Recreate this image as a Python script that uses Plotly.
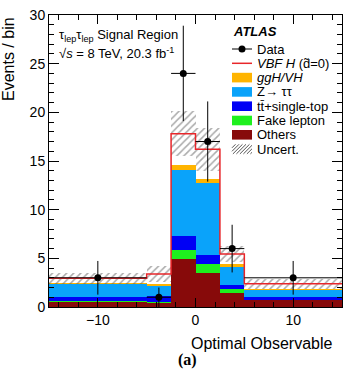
import plotly.graph_objects as go

# ---------------- data ----------------
bin_edges = [-15, -5, -2.5, 0, 2.5, 5, 15]
data_counts = [3, 1, 24, 17, 6, 3]
data_err = [1.73, 1.0, 4.9, 4.12, 2.45, 1.73]
others = [0.6, 0.5, 4.9, 3.45, 1.4, 0.78]
fake_lepton = [0.05, 0.05, 1.0, 0.95, 0.4, 0.03]
ttbar_top = [0.4, 0.6, 1.35, 0.95, 0.45, 0.2]
z_tautau = [1.35, 1.1, 6.85, 7.4, 1.95, 0.82]
ggh_vh = [0.05, 0.15, 0.45, 0.45, 0.2, 0.05]
vbf_h = [0.5, 1.0, 3.25, 3.0, 1.05, 0.5]
uncert = [0.55, 0.8, 2.3, 2.2, 0.85, 0.5]

x_ticks = [-10, 0, 10]

centers = [(a + b) / 2 for a, b in zip(bin_edges[:-1], bin_edges[1:])]
widths = [b - a for a, b in zip(bin_edges[:-1], bin_edges[1:])]
halfw = [w / 2 for w in widths]

# ---------------- layout geometry ----------------
W, H = 343, 383
L, R, T, B = 49, 1, 15, 76
PW = W - L - R
PH = H - T - B


def px(x):
    return (x - L) / PW


def py(y):
    return (H - B - y) / PH


C_OTH = "#870a0a"
C_FAKE = "#1ef01e"
C_TT = "#0000f5"
C_Z = "#0aa3fa"
C_GGH = "#ffb400"
C_VBF = "#e8262a"
C_HATCH = "#555555"

fig = go.Figure()

stack = [
    ("Others", others, C_OTH),
    ("Fake lepton", fake_lepton, C_FAKE),
    ("ttbar", ttbar_top, C_TT),
    ("Ztautau", z_tautau, C_Z),
    ("ggH/VH", ggh_vh, C_GGH),
    ("VBF H", vbf_h, "white"),
]
base = [0.0] * len(centers)
for name, vals, col in stack:
    fig.add_trace(go.Bar(x=centers, y=vals, base=list(base), width=widths,
                         marker=dict(color=col, line=dict(width=0)),
                         name=name, showlegend=False))
    base = [b + v for b, v in zip(base, vals)]
total = base

# VBF outline (step line of total)
fig.add_trace(go.Scatter(x=bin_edges, y=total + [total[-1]], mode="lines",
                         line=dict(color=C_VBF, width=1.5, shape="hv"),
                         showlegend=False))

# uncertainty hatched band
fig.add_trace(go.Bar(x=centers, y=[2 * u for u in uncert],
                     base=[t - u for t, u in zip(total, uncert)], width=widths,
                     marker=dict(color="rgba(0,0,0,0)", line=dict(width=0),
                                 pattern=dict(shape="/", fgcolor=C_HATCH,
                                              bgcolor="rgba(0,0,0,0)",
                                              size=5, solidity=0.3,
                                              fillmode="overlay")),
                     showlegend=False))

# data
fig.add_trace(go.Scatter(x=centers, y=data_counts, mode="markers",
                         marker=dict(color="black", size=7),
                         error_y=dict(type="data", array=data_err, color="black",
                                      thickness=1, width=0),
                         error_x=dict(type="data", array=halfw, color="black",
                                      thickness=1, width=0),
                         showlegend=False))

FONT = "Liberation Sans, Arial, sans-serif"

ann = []
ann.append(dict(text="Events / bin", x=px(8), y=py(59), textangle=-90,
                xanchor="center", yanchor="middle", font=dict(size=16)))
ann.append(dict(text="Optimal Observable", x=px(334), y=py(343),
                xanchor="right", yanchor="middle", font=dict(size=16)))
ann.append(dict(text="<b>(a)</b>", x=px(187), y=py(360), xanchor="center",
                yanchor="middle",
                font=dict(size=16, family="Liberation Serif, Times New Roman, serif")))
ann.append(dict(text="τ<sub>lep</sub>τ<sub>lep</sub> Signal Region", x=px(57), y=py(36),
                xanchor="left", yanchor="middle", font=dict(size=13)))
ann.append(dict(text="√<i>s</i> = 8 TeV, 20.3 fb<sup>-1</sup>", x=px(57), y=py(53),
                xanchor="left", yanchor="middle", font=dict(size=13)))
ann.append(dict(text="<b><i>ATLAS</i></b>", x=px(231), y=py(31),
                xanchor="left", yanchor="middle", font=dict(size=13)))

leg_labels = ["Data", "<i>VBF H</i> (d\u0303=0)", "<i>ggH/VH</i>", "Z→ ττ",
              "tt\u0304+single-top", "Fake lepton", "Others", "Uncert."]
leg_y0 = 49
leg_dy = 14.3
for i, lab in enumerate(leg_labels):
    ann.append(dict(text=lab, x=px(255), y=py(leg_y0 + i * leg_dy),
                    xanchor="left", yanchor="middle", font=dict(size=13)))
for a in ann:
    a.update(xref="paper", yref="paper", showarrow=False)

shapes = []
sx0, sx1 = 232, 252
# data symbol
yy = leg_y0
shapes.append(dict(type="line", x0=px(sx0), x1=px(sx1), y0=py(yy), y1=py(yy),
                   line=dict(color="black", width=1)))
shapes.append(dict(type="circle", x0=px(242 - 3.5), x1=px(242 + 3.5),
                   y0=py(yy + 3.5), y1=py(yy - 3.5),
                   fillcolor="black", line=dict(color="black", width=0)))
yy = leg_y0 + leg_dy
shapes.append(dict(type="line", x0=px(sx0), x1=px(sx1), y0=py(yy), y1=py(yy),
                   line=dict(color=C_VBF, width=1.5)))
for i, col in enumerate([C_GGH, C_Z, C_TT, C_FAKE, C_OTH]):
    yy = leg_y0 + (i + 2) * leg_dy
    shapes.append(dict(type="rect", x0=px(sx0), x1=px(sx1), y0=py(yy + 4.8),
                       y1=py(yy - 4.8), fillcolor=col, line=dict(width=0)))
# hatched legend box
yy = leg_y0 + 7 * leg_dy
ytop, ybot = yy - 4.8, yy + 4.8
hh = ybot - ytop
off = -hh
while off < (sx1 - sx0):
    xa, ya = sx0 + off, ybot
    xb, yb = sx0 + off + hh, ytop
    if xa < sx0:
        ya = ybot - (sx0 - xa)
        xa = sx0
    if xb > sx1:
        yb = ytop + (xb - sx1)
        xb = sx1
    shapes.append(dict(type="line", x0=px(xa), x1=px(xb), y0=py(ya), y1=py(yb),
                       line=dict(color=C_HATCH, width=1)))
    off += 3.5
for s in shapes:
    s.update(xref="paper", yref="paper")

fig.update_layout(
    width=W, height=H,
    margin=dict(l=L, r=R, t=T, b=B, pad=0),
    paper_bgcolor="white", plot_bgcolor="white",
    barmode="overlay", bargap=0,
    font=dict(family=FONT, color="black", size=14),
    annotations=ann, shapes=shapes, showlegend=False,
    xaxis=dict(range=[-15, 15], tickvals=x_ticks, ticks="inside", ticklen=9,
               tickcolor="black", tickwidth=1, showline=True, linecolor="black",
               linewidth=1, mirror="allticks", showgrid=False, zeroline=False,
               tickfont=dict(size=14),
               minor=dict(dtick=2, tick0=0, ticks="inside", ticklen=5,
                          tickcolor="black", showgrid=False)),
    yaxis=dict(range=[0, 30], dtick=5, ticks="inside", ticklen=10,
               tickcolor="black", tickwidth=1, showline=True, linecolor="black",
               linewidth=1, mirror="allticks", showgrid=False, zeroline=False,
               tickfont=dict(size=14),
               minor=dict(dtick=1, ticks="inside", ticklen=5,
                          tickcolor="black", showgrid=False)),
)

fig.write_html("out.html")
